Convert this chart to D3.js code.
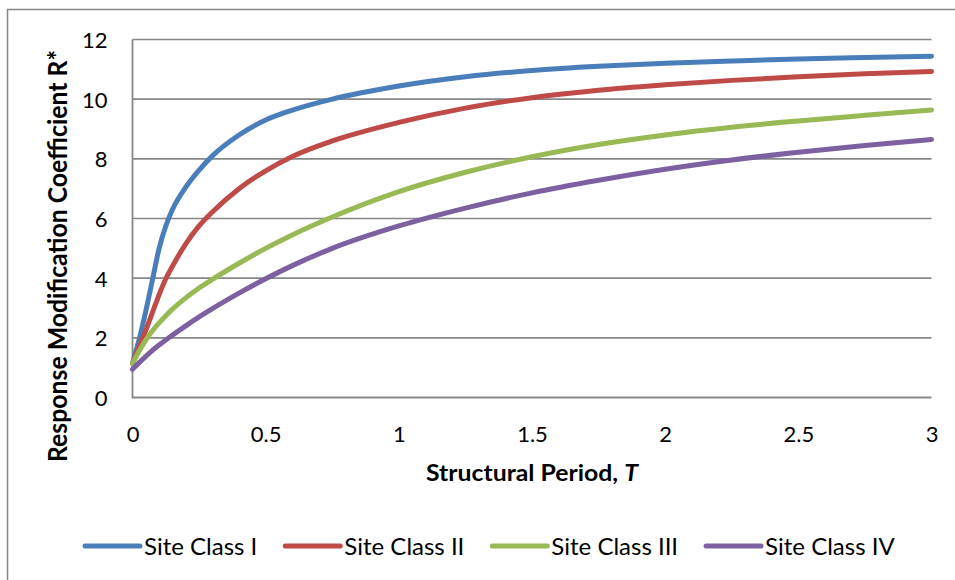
<!DOCTYPE html>
<html lang="en">

<head>
  <meta charset="utf-8">
  <title>Response Modification Coefficient</title>
  <style>
    body {
      margin: 0;
      background: #fff;
    }

    svg text {
      font-family: Lato, "Open Sans", sans-serif;
      fill: #000;
    }

    .tick text {
      font-size: 22px;
    }

    .title {
      font-weight: bold;
    }
  </style>
</head>

<body>
  <div id="chart"></div>
</body>
<script src="https://d3js.org/d3.v7.min.js"></script>

<script>

  // structural period T (s)
  let periods = [0, 0.025, 0.05, 0.075, 0.1, 0.125, 0.15, 0.2, 0.25, 0.3, 0.4, 0.5, 0.6, 0.75,
    1, 1.25, 1.5, 1.75, 2, 2.25, 2.5, 2.75, 3];

  let siteClass1 = [1.15, 1.95, 2.9, 3.95, 5.0, 5.75, 6.3, 7.05, 7.62, 8.1, 8.8, 9.3, 9.63, 10.0,
    10.44, 10.75, 10.96, 11.1, 11.2, 11.28, 11.35, 11.4, 11.44];
  let siteClass2 = [1.15, 1.7, 2.25, 2.85, 3.45, 3.98, 4.4, 5.15, 5.75, 6.22, 7.0, 7.6, 8.08, 8.6,
    9.22, 9.7, 10.05, 10.3, 10.48, 10.63, 10.75, 10.85, 10.93];
  let siteClass3 = [1.15, 1.55, 1.92, 2.24, 2.5, 2.74, 2.96, 3.34, 3.67, 3.96, 4.5, 5.0, 5.45, 6.05,
    6.9, 7.55, 8.07, 8.48, 8.8, 9.06, 9.27, 9.46, 9.64];
  let siteClass4 = [0.95, 1.17, 1.38, 1.58, 1.76, 1.93, 2.09, 2.4, 2.7, 2.98, 3.5, 3.98, 4.42, 5.0,
    5.75, 6.35, 6.86, 7.28, 7.65, 7.96, 8.22, 8.45, 8.65];

  let seriesNames = ["Site Class I", "Site Class II", "Site Class III", "Site Class IV"];
  let seriesValues = [siteClass1, siteClass2, siteClass3, siteClass4];
  let colors = ["#4a7ebb", "#be4b48", "#98b954", "#7d60a0"];

  let xTicks = [0, 0.5, 1, 1.5, 2, 2.5, 3];
  let yTicks = [0, 2, 4, 6, 8, 10, 12];

  let W = 955, H = 580;
  let plotL = 132.5, plotR = 931.5, plotT = 39.5, plotB = 397.5;

  let svg = d3.select("#chart")
    .append("svg")
    .attr("width", W)
    .attr("height", H);

  // outer chart border (only top & left visible)
  svg.append("path")
    .attr("d", "M7.5," + H + "V9.5H" + W)
    .attr("fill", "none")
    .attr("stroke", "#868686")
    .attr("stroke-width", 1.5);

  let x = d3.scaleLinear().domain([0, 3]).range([plotL, plotR]);
  let y = d3.scaleLinear().domain([0, 12]).range([plotB, plotT]);

  // gridlines
  svg.append("g")
    .selectAll("line")
    .data(yTicks.slice(1))
    .enter()
    .append("line")
    .attr("x1", plotL)
    .attr("x2", plotR)
    .attr("y1", (d) => y(d))
    .attr("y2", (d) => y(d))
    .attr("stroke", "#878787")
    .attr("stroke-width", 1.6);

  // axes
  let yAxis = svg.append("g")
    .attr("transform", "translate(" + plotL + ",0)")
    .call(d3.axisLeft(y).tickValues(yTicks).tickSize(0).tickPadding(25).tickFormat(d3.format("d")));

  let xAxis = svg.append("g")
    .attr("transform", "translate(0," + plotB + ")")
    .call(d3.axisBottom(x).tickValues(xTicks).tickSize(0).tickPadding(25).tickFormat((d) => String(d)));

  svg.selectAll(".domain").remove();
  svg.selectAll(".tick text").attr("font-family", null).attr("font-size", null);
  xAxis.selectAll(".tick text").attr("dy", null).attr("y", 44);
  yAxis.selectAll(".tick text").attr("dy", "0.36em");

  svg.append("path")
    .attr("d", "M" + plotL + "," + plotT + "V" + plotB + "H" + plotR)
    .attr("fill", "none")
    .attr("stroke", "#878787")
    .attr("stroke-width", 1.8);

  // series lines
  let line = d3.line()
    .x((d) => x(d[0]))
    .y((d) => y(d[1]))
    .curve(d3.curveMonotoneX);

  seriesValues.forEach((vals, i) => {
    svg.append("path")
      .datum(periods.map((t, j) => [t, vals[j]]))
      .attr("d", line)
      .attr("fill", "none")
      .attr("stroke", colors[i])
      .attr("stroke-width", 5)
      .attr("stroke-linecap", "round")
      .attr("stroke-linejoin", "round");
  });

  // axis titles
  let xt = svg.append("text")
    .attr("class", "title")
    .attr("x", 532)
    .attr("y", 481)
    .attr("text-anchor", "middle")
    .attr("font-size", 22)
    .attr("textLength", 212)
    .attr("lengthAdjust", "spacingAndGlyphs");
  xt.append("tspan").text("Structural Period, ");
  xt.append("tspan").attr("font-style", "italic").text("T");

  svg.append("text")
    .attr("class", "title")
    .attr("transform", "translate(67,256) rotate(-90)")
    .attr("text-anchor", "middle")
    .attr("font-size", 26)
    .attr("textLength", 412)
    .attr("lengthAdjust", "spacingAndGlyphs")
    .text("Response Modification Coefficient R*");

  // legend
  let legend = svg.append("g").attr("transform", "translate(0,546)");
  let lx = 85;
  seriesNames.forEach((name, i) => {
    legend.append("line")
      .attr("x1", lx)
      .attr("x2", lx + 55)
      .attr("stroke", colors[i])
      .attr("stroke-width", 5)
      .attr("stroke-linecap", "round");
    let t = legend.append("text")
      .attr("x", lx + 59)
      .attr("y", 9)
      .attr("font-size", 24)
      .text(name);
    lx += 59 + t.node().getComputedTextLength() + 28;
  });

</script>

</html>
